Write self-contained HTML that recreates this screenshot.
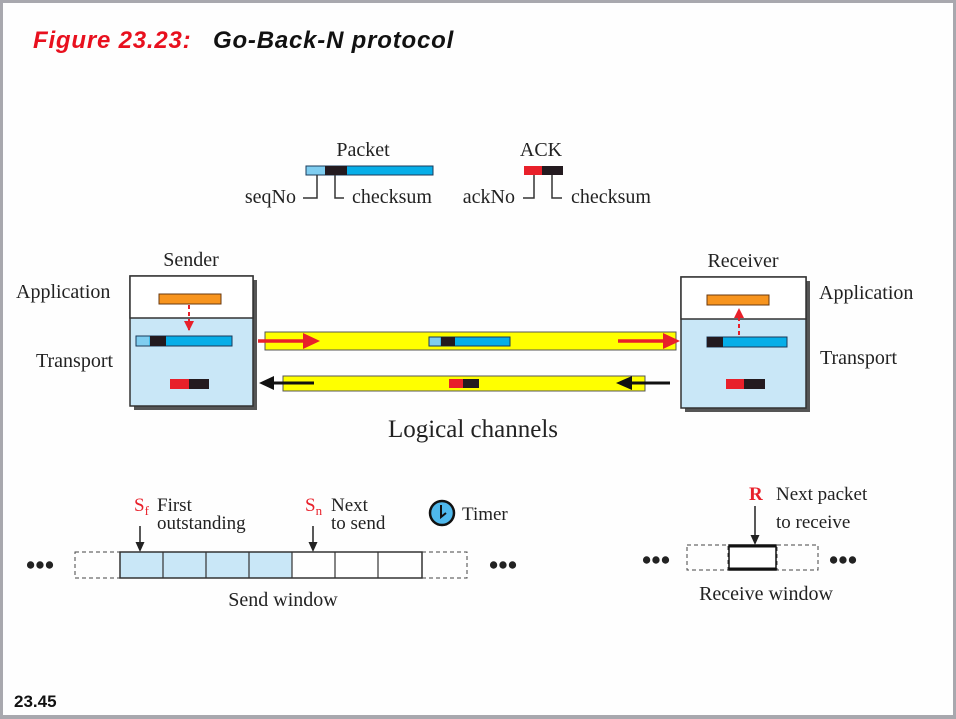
<!DOCTYPE html>
<html><head><meta charset="utf-8"><style>
html,body{margin:0;padding:0;background:#fff;}
svg{display:block;}
</style></head><body>
<svg width="956" height="719" viewBox="0 0 956 719" xmlns="http://www.w3.org/2000/svg" font-family="Liberation Serif, serif">
<defs>
<marker id="ra" markerWidth="10" markerHeight="10" refX="9" refY="5" orient="auto" markerUnits="userSpaceOnUse"><path d="M0,0 L10,5 L0,10 z" fill="#e8202a"/></marker>
</defs>
<rect x="0" y="0" width="956" height="719" fill="#a8a8ae"/>
<rect x="3" y="3" width="950" height="712" fill="#fefefe"/>
<text x="33" y="48" font-family="Liberation Sans, sans-serif" font-size="24" font-weight="bold" font-style="italic" fill="#e8101e" letter-spacing="0.8">Figure 23.23:</text>
<text x="213" y="48" font-family="Liberation Sans, sans-serif" font-size="24" font-weight="bold" font-style="italic" fill="#111" letter-spacing="0.8">Go-Back-N protocol</text>

<g font-size="20" fill="#222">
<text x="363" y="156" text-anchor="middle">Packet</text>
<rect x="306" y="166" width="127" height="9" fill="#06aee8" stroke="#1a3a5a" stroke-width="1"/>
<rect x="306.5" y="166.5" width="19" height="8" fill="#7fcdf0"/>
<rect x="325" y="166" width="22" height="9" fill="#231a1f"/>
<path d="M317 175 V198 H303 M335 175 V198 H344" stroke="#333" fill="none" stroke-width="1.5"/>
<text x="296" y="203" text-anchor="end">seqNo</text>
<text x="352" y="203">checksum</text>
<text x="541" y="156" text-anchor="middle">ACK</text>
<rect x="524" y="166" width="18" height="9" fill="#e8202a"/>
<rect x="542" y="166" width="21" height="9" fill="#231a1f"/>
<path d="M534 175 V198 H523 M552 175 V198 H562" stroke="#333" fill="none" stroke-width="1.5"/>
<text x="515" y="203" text-anchor="end">ackNo</text>
<text x="571" y="203">checksum</text>

<text x="191" y="266" text-anchor="middle">Sender</text>
<text x="16" y="298">Application</text>
<text x="36" y="367">Transport</text>
<rect x="134" y="280" width="123" height="130" fill="#555"/>
<rect x="130" y="276" width="123" height="130" fill="#c9e7f7" stroke="#333" stroke-width="1.5"/>
<rect x="130" y="276" width="123" height="42" fill="#fff" stroke="#333" stroke-width="1.5"/>
<rect x="159" y="294" width="62" height="10" fill="#f7941e" stroke="#6a3a10" stroke-width="1"/>
<line x1="189" y1="305" x2="189" y2="330" stroke="#e8202a" stroke-width="2" stroke-dasharray="4,3" marker-end="url(#ra)"/>
<rect x="136" y="336" width="96" height="10" fill="#06aee8" stroke="#1a3a5a" stroke-width="1"/>
<rect x="136.5" y="336.5" width="13" height="9" fill="#7fcdf0"/>
<rect x="150" y="336" width="16" height="10" fill="#231a1f"/>
<rect x="170" y="379" width="39" height="10" fill="#231a1f"/>
<rect x="170" y="379" width="19" height="10" fill="#e8202a"/>

<rect x="265" y="332" width="411" height="18" fill="#ffff00" stroke="#555" stroke-width="1"/>
<rect x="283" y="376" width="362" height="15" fill="#ffff00" stroke="#555" stroke-width="1"/>
<line x1="258" y1="341" x2="305" y2="341" stroke="#e8202a" stroke-width="3.5"/>
<path d="M303 333 L320 341 L303 349 z" fill="#e8202a"/>
<line x1="618" y1="341" x2="665" y2="341" stroke="#e8202a" stroke-width="3.5"/>
<path d="M663 333 L680 341 L663 349 z" fill="#e8202a"/>
<rect x="429" y="337" width="81" height="9" fill="#06aee8" stroke="#1a3a5a" stroke-width="1"/>
<rect x="429.5" y="337.5" width="11" height="8" fill="#7fcdf0"/>
<rect x="441" y="337" width="14" height="9" fill="#231a1f"/>
<rect x="449" y="379" width="30" height="9" fill="#231a1f"/>
<rect x="449" y="379" width="14" height="9" fill="#e8202a"/>
<line x1="272" y1="383" x2="314" y2="383" stroke="#111" stroke-width="3"/>
<path d="M274 376 L259 383 L274 390 z" fill="#111"/>
<line x1="630" y1="383" x2="670" y2="383" stroke="#111" stroke-width="3"/>
<path d="M632 376 L616 383 L632 390 z" fill="#111"/>

<text x="743" y="267" text-anchor="middle">Receiver</text>
<text x="819" y="299">Application</text>
<text x="820" y="364">Transport</text>
<rect x="685" y="281" width="125" height="131" fill="#555"/>
<rect x="681" y="277" width="125" height="131" fill="#c9e7f7" stroke="#333" stroke-width="1.5"/>
<rect x="681" y="277" width="125" height="42" fill="#fff" stroke="#333" stroke-width="1.5"/>
<rect x="707" y="295" width="62" height="10" fill="#f7941e" stroke="#6a3a10" stroke-width="1"/>
<line x1="739" y1="335" x2="739" y2="309" stroke="#e8202a" stroke-width="2" stroke-dasharray="4,3" marker-end="url(#ra)"/>
<rect x="707" y="337" width="80" height="10" fill="#06aee8" stroke="#1a3a5a" stroke-width="1"/>
<rect x="707" y="337" width="16" height="10" fill="#231a1f"/>
<rect x="726" y="379" width="39" height="10" fill="#231a1f"/>
<rect x="726" y="379" width="18" height="10" fill="#e8202a"/>

<text x="473" y="437" text-anchor="middle" font-size="25">Logical channels</text>

<g font-size="19">
<text x="134" y="511" fill="#e8202a">S<tspan font-size="13" dy="4">f</tspan></text>
<text x="157" y="511">First</text>
<text x="157" y="529">outstanding</text>
<text x="305" y="511" fill="#e8202a">S<tspan font-size="13" dy="4">n</tspan></text>
<text x="331" y="511">Next</text>
<text x="331" y="529">to send</text>
<text x="462" y="520">Timer</text>
</g>
<line x1="140" y1="526" x2="140" y2="545" stroke="#222" stroke-width="1.5"/>
<path d="M135.5 542 L140 552 L144.5 542 z" fill="#222"/>
<line x1="313" y1="526" x2="313" y2="545" stroke="#222" stroke-width="1.5"/>
<path d="M308.5 542 L313 552 L317.5 542 z" fill="#222"/>
<circle cx="442" cy="513" r="12" fill="#4fb8ec" stroke="#111" stroke-width="2.5"/>
<path d="M441 505 V517 L446 513" stroke="#111" stroke-width="2" fill="none"/>
<rect x="75" y="552" width="45" height="26" fill="none" stroke="#444" stroke-width="1" stroke-dasharray="4,3"/>
<rect x="422" y="552" width="45" height="26" fill="none" stroke="#444" stroke-width="1" stroke-dasharray="4,3"/>
<rect x="120" y="552" width="172" height="26" fill="#c9e7f7"/>
<rect x="120" y="552" width="302" height="26" fill="none" stroke="#333" stroke-width="1.5"/>
<path d="M163 552V578 M206 552V578 M249 552V578 M292 552V578 M335 552V578 M378 552V578" stroke="#333" stroke-width="1.2"/>
<text x="40" y="574" text-anchor="middle" font-size="27" font-weight="bold">•••</text>
<text x="503" y="574" text-anchor="middle" font-size="27" font-weight="bold">•••</text>
<text x="283" y="606" text-anchor="middle">Send window</text>

<text x="749" y="500" fill="#e8202a" font-weight="bold" font-size="19">R</text>
<text x="776" y="500" font-size="19">Next packet</text>
<text x="776" y="528" font-size="19">to receive</text>
<line x1="755" y1="506" x2="755" y2="538" stroke="#222" stroke-width="1.5"/>
<path d="M750.5 535 L755 545 L759.5 535 z" fill="#222"/>
<rect x="687" y="545" width="41" height="25" fill="none" stroke="#444" stroke-width="1" stroke-dasharray="4,3"/>
<rect x="777" y="545" width="41" height="25" fill="none" stroke="#444" stroke-width="1" stroke-dasharray="4,3"/>
<rect x="729" y="545" width="47" height="25" fill="#fff" stroke="#111" stroke-width="1.5"/>
<line x1="729" y1="546" x2="776" y2="546" stroke="#111" stroke-width="3"/>
<line x1="729" y1="569" x2="776" y2="569" stroke="#111" stroke-width="3"/>
<text x="656" y="569" text-anchor="middle" font-size="27" font-weight="bold">•••</text>
<text x="843" y="569" text-anchor="middle" font-size="27" font-weight="bold">•••</text>
<text x="766" y="600" text-anchor="middle">Receive window</text>
</g>

<text x="14" y="707" font-family="Liberation Sans Narrow, Liberation Sans, sans-serif" font-size="17" font-weight="bold" fill="#111">23.45</text>
</svg>
</body></html>
